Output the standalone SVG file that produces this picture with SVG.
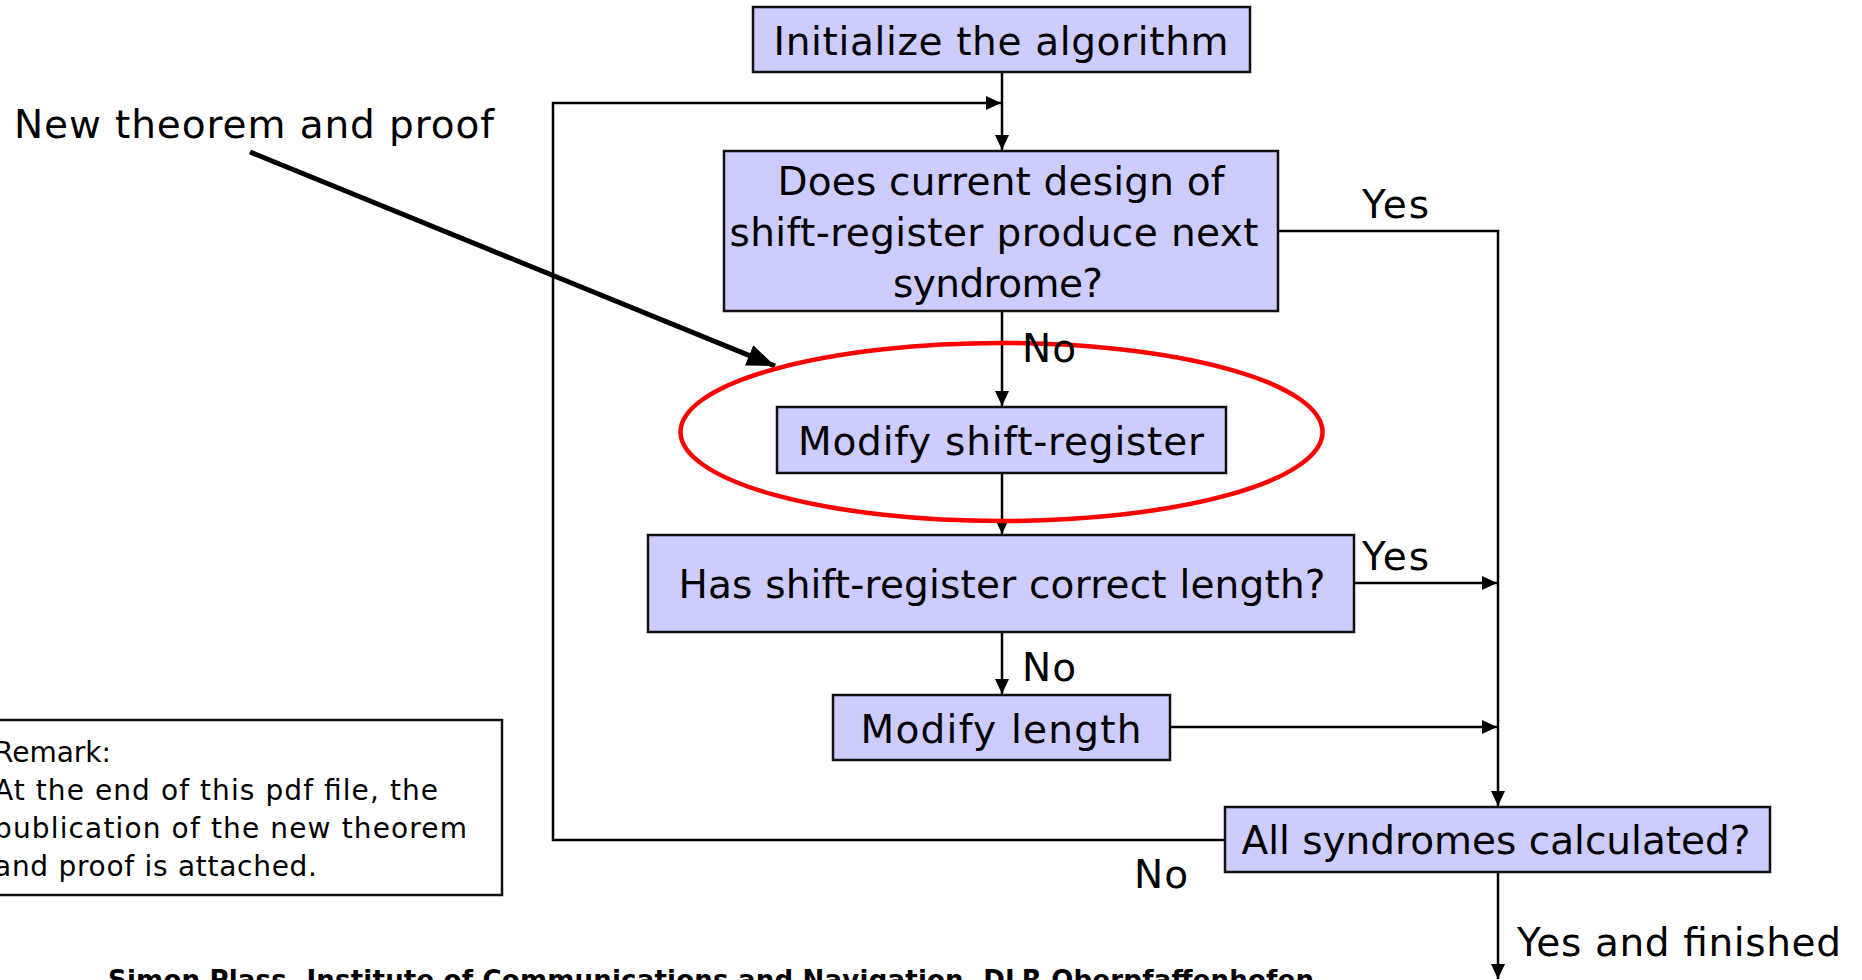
<svg xmlns="http://www.w3.org/2000/svg" width="1862" height="980" viewBox="0 0 1862 980">
<style>
.box{fill:#ccccff;stroke:#111;stroke-width:2.5}
.t{font-family:"DejaVu Sans","Liberation Sans",sans-serif;font-size:39px;fill:#000}
.c{text-anchor:middle}
.ln{fill:none;stroke:#000;stroke-width:2.5}
.rm{font-family:"DejaVu Sans","Liberation Sans",sans-serif;font-size:28px;fill:#000}
.ft{font-family:"DejaVu Sans","Liberation Sans",sans-serif;font-size:26px;font-weight:bold;fill:#000}
</style>
<defs>
<marker id="arr" markerUnits="userSpaceOnUse" markerWidth="15" markerHeight="14" refX="15" refY="7" orient="auto">
<path d="M0,0 L15,7 L0,14 z" fill="#000"/>
</marker>
<marker id="arrBig" markerUnits="userSpaceOnUse" markerWidth="28" markerHeight="22" refX="28" refY="11" orient="auto">
<path d="M0,0 L28,11 L0,22 z" fill="#000"/>
</marker>
</defs>
<rect width="1862" height="980" fill="#fff"/>

<g id="connectors">
<path class="ln" d="M1002,72 V150" marker-end="url(#arr)"/>
<path class="ln" d="M1225,840 H553 V103 H1001" marker-end="url(#arr)"/>
<path class="ln" d="M1002,311 V406" marker-end="url(#arr)"/>
<path class="ln" d="M1002,473 V534" marker-end="url(#arr)"/>
<path class="ln" d="M1002,632 V694" marker-end="url(#arr)"/>
<path class="ln" d="M1278,231 H1498 V806" marker-end="url(#arr)"/>
<path class="ln" d="M1354,583 H1497" marker-end="url(#arr)"/>
<path class="ln" d="M1170,727 H1497" marker-end="url(#arr)"/>
<path class="ln" d="M1498,872 V979" marker-end="url(#arr)"/>
<path d="M250,152 L775,366" fill="none" stroke="#000" stroke-width="5" marker-end="url(#arrBig)"/>
</g>

<g id="n-init">
<rect class="box" x="753" y="7" width="497" height="65" stroke-width="3"/>
<text class="t c" x="1001" y="55" textLength="455">Initialize the algorithm</text>
</g>

<g id="n-does">
<rect class="box" x="724" y="151" width="554" height="160"/>
<text class="t c" x="1001" y="195" textLength="447">Does current design of</text>
<text class="t c" x="994" y="246" textLength="529">shift-register produce next</text>
<text class="t c" x="998" y="297" textLength="210">syndrome?</text>
</g>

<g id="n-modsr">
<rect class="box" x="777" y="407" width="449" height="66"/>
<text class="t c" x="1001" y="455" textLength="406">Modify shift-register</text>
</g>

<g id="n-has">
<rect class="box" x="648" y="535" width="706" height="97"/>
<text class="t c" x="1002" y="598" textLength="647">Has shift-register correct length?</text>
</g>

<g id="n-modlen">
<rect class="box" x="833" y="695" width="337" height="65"/>
<text class="t c" x="1001" y="743" textLength="281">Modify length</text>
</g>

<g id="n-all">
<rect class="box" x="1225" y="807" width="545" height="65"/>
<text class="t c" x="1496" y="854" textLength="509">All syndromes calculated?</text>
</g>

<g id="highlight">
<ellipse cx="1001.5" cy="432" rx="321" ry="89" fill="none" stroke="#ff0000" stroke-width="4.5"/>
</g>

<g id="labels">
<text class="t" x="1022" y="362" textLength="54">No</text>
<text class="t" x="1022" y="681" textLength="54">No</text>
<text class="t" x="1134" y="888" textLength="54">No</text>
<text class="t" x="1362" y="218" textLength="67">Yes</text>
<text class="t" x="1362" y="570" textLength="67">Yes</text>
<text class="t" x="1517" y="956" textLength="324">Yes and finished</text>
</g>

<g id="n-newtheorem">
<text class="t" x="14" y="138" textLength="480">New theorem and proof</text>
</g>

<g id="n-remark">
<rect x="-10" y="720" width="512" height="175" fill="none" stroke="#111" stroke-width="2.5"/>
<text class="rm" x="-6" y="762" textLength="117">Remark:</text>
<text class="rm" x="-6" y="800" textLength="444">At the end of this pdf file, the</text>
<text class="rm" x="-6" y="838" textLength="473">publication of the new theorem</text>
<text class="rm" x="-6" y="876" textLength="323">and proof is attached.</text>
</g>

<g id="footer">
<text class="ft" x="108" y="989" textLength="1206">Simon Plass, Institute of Communications and Navigation, DLR Oberpfaffenhofen</text>
</g>
</svg>
